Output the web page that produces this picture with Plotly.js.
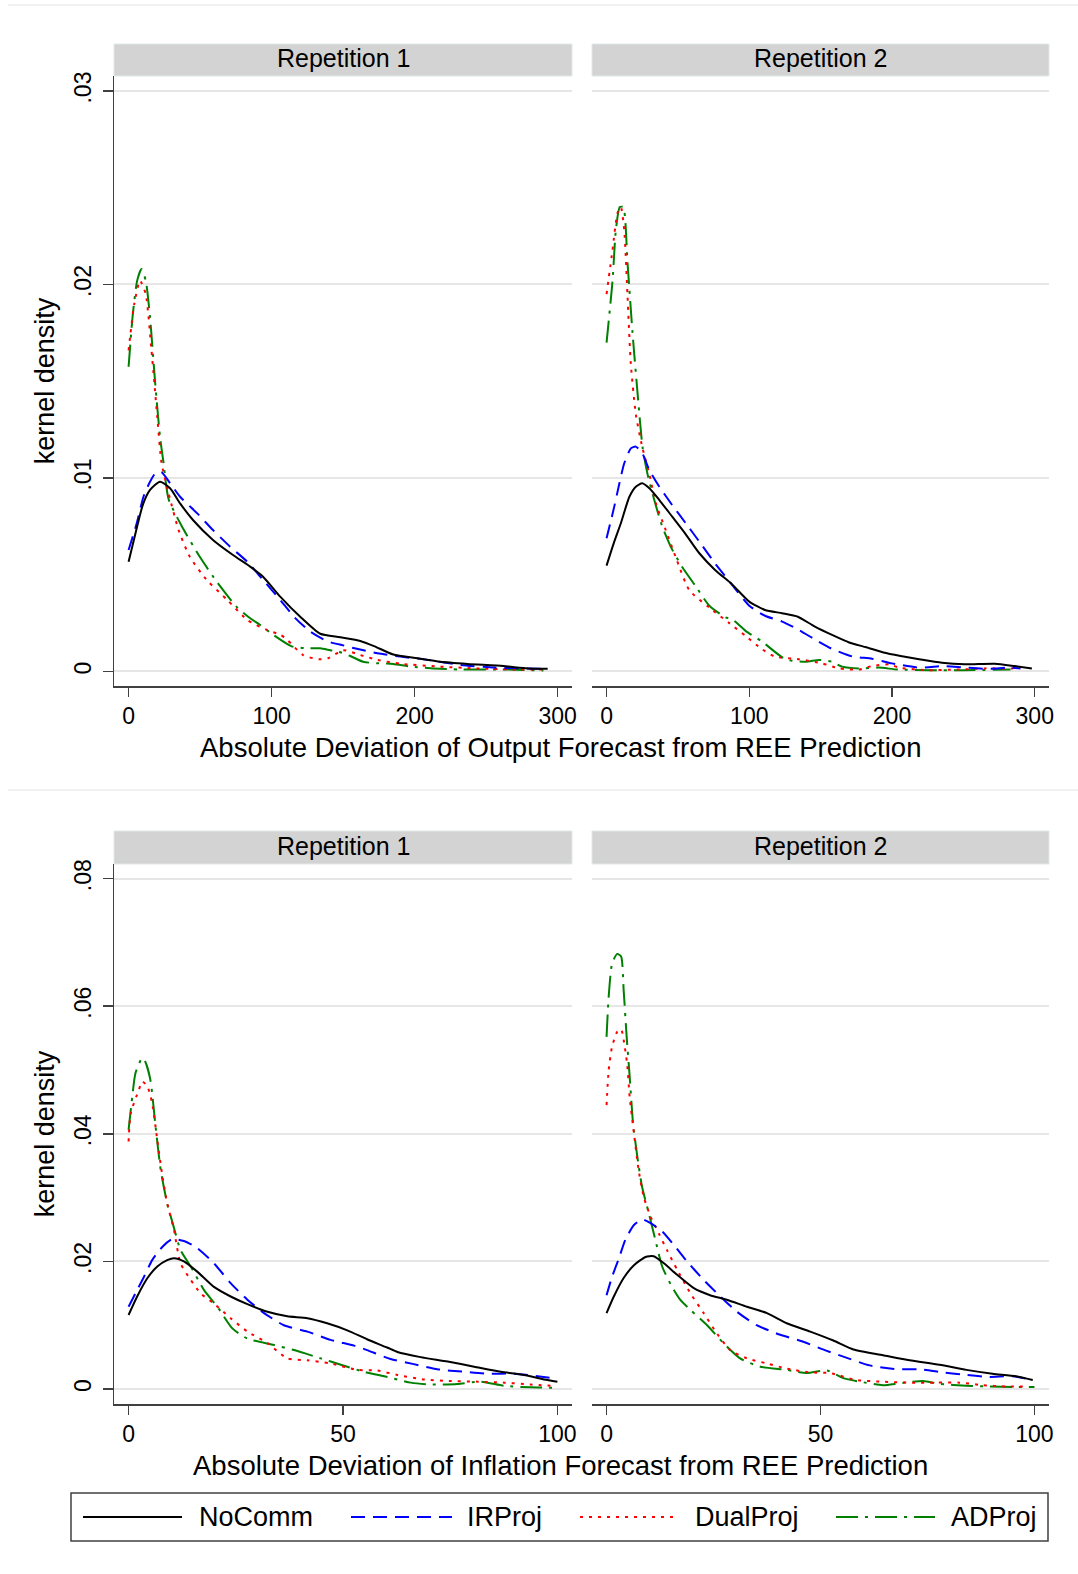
<!DOCTYPE html>
<html>
<head>
<meta charset="utf-8">
<script src="https://cdn.plot.ly/plotly-3.0.1.min.js"></script>
<style>html,body{margin:0;padding:0;background:#fff;}#chart{width:1078px;height:1574px;}</style>
</head>
<body>
<div id="chart"></div>
<script>
// ---------- DATA ----------
const seriesNames = ["NoComm", "IRProj", "DualProj", "ADProj"];
const facetLabels = ["Repetition 1", "Repetition 2"];
const outTickVals = [0, 100, 200, 300];
const infTickVals = [0, 50, 100];
const outYTickVals = [0, 0.01, 0.02, 0.03];
const outYTickText = ["0", ".01", ".02", ".03"];
const infYTickVals = [0, 0.02, 0.04, 0.06, 0.08];
const infYTickText = ["0", ".02", ".04", ".06", ".08"];

// Output forecast deviation, Repetition 1
const out1_NoComm_x = [0,5,10,15,22,29,36,45,59,73,85,94,106,120,134,148,162,172,185,202,218,237,262,279,293];
const out1_NoComm_y = [0.00567,0.0072,0.00862,0.00938,0.00981,0.00947,0.00869,0.00783,0.0068,0.00602,0.00542,0.0049,0.00387,0.00283,0.00195,0.00177,0.00158,0.0013,0.00088,0.00068,0.0005,0.00039,0.00028,0.00016,0.00014];
const out1_IRProj_x = [0,5.7,10.4,15,19,23,29,36,48,59,71,83,94,106,116,127,139,150,158,174,190,209,232,256,279,293];
const out1_IRProj_y = [0.00628,0.00766,0.00903,0.00981,0.01027,0.0103,0.00973,0.00903,0.00817,0.00731,0.00645,0.00567,0.00473,0.0037,0.0028,0.00206,0.00156,0.00135,0.0012,0.00094,0.00077,0.0006,0.00034,0.0002,0.00016,0.00014];
const out1_DualProj_x = [0,4,8,12,16,20,23,28,35,43,55,69,83,97,106,111,122,133,140,150,162,174,190,218,243,273,292];
const out1_DualProj_y = [0.0166,0.019,0.0202,0.0195,0.0166,0.0132,0.0108,0.0092,0.0073,0.0059,0.0047,0.0037,0.00266,0.00214,0.0019,0.00163,0.00085,0.00063,0.0007,0.0011,0.00085,0.0006,0.0004,0.00025,0.00016,0.0001,0.0001];
const out1_ADProj_x = [0,3,6,9,12,15,18.6,22,24.4,28,38,50,62,76,85,92,101,114,124,134,141,147,155,164,175,185,197,213,232,265,290];
const out1_ADProj_y = [0.01575,0.0185,0.0202,0.0208,0.0202,0.0183,0.0149,0.0121,0.0108,0.0089,0.0074,0.0059,0.0046,0.0033,0.00275,0.0024,0.0019,0.0013,0.0012,0.0012,0.0011,0.00102,0.0008,0.0005,0.00042,0.00039,0.00025,0.00016,0.0001,0.0001,0.00005];

// Output forecast deviation, Repetition 2
const out2_NoComm_x = [0,5,10,16,20.5,25,30,37,46,55,65,76,88,100,111,123,134,146,158,170,182,194,206,220,235,251,272,286,298];
const out2_NoComm_y = [0.00547,0.00662,0.00766,0.00903,0.00955,0.00973,0.00947,0.00886,0.008,0.00714,0.00611,0.00525,0.0045,0.00361,0.00318,0.00301,0.00283,0.00232,0.00189,0.0015,0.00125,0.00098,0.0008,0.00062,0.00045,0.00037,0.0004,0.00028,0.00016];
const out2_IRProj_x = [0,5.4,9,12.4,17,20.5,25,30,37,46,55.5,65,76,88,100,111,123,135,146,157,172,186,200,219,237,251,267,283,290];
const out2_IRProj_y = [0.00688,0.00852,0.00973,0.01076,0.01153,0.01162,0.01128,0.01041,0.00955,0.0086,0.00766,0.00671,0.00559,0.00447,0.0034,0.00288,0.00258,0.00214,0.00165,0.0012,0.00078,0.00066,0.00042,0.0002,0.00028,0.0002,0.00014,0.0002,0.00016];
const out2_DualProj_x = [0,4.2,7.7,10,12.4,14.7,17,20.5,25,30,34.5,41.5,48.5,58,72,86,98,109,118,135,151,163,177,186,198,205,224,247,265,284,290];
const out2_DualProj_y = [0.0195,0.0218,0.0237,0.024,0.0228,0.0194,0.0159,0.0133,0.0116,0.0102,0.0087,0.0073,0.0059,0.0042,0.0033,0.0025,0.0018,0.00115,0.00077,0.00063,0.00042,0.00016,0.0001,0.00028,0.00037,0.0002,0.00007,0.0001,0.00016,0.00016,0.0002];
const out2_ADProj_x = [0,4.2,6.5,9.3,11.7,14.7,18.2,21.7,25.2,28.7,33.3,39,46,53,62.5,72,83.4,88,97.4,109,125.4,139.4,149,158,165,176.7,190.7,204,227,250,283];
const out2_ADProj_y = [0.017,0.0202,0.0228,0.024,0.024,0.0211,0.0175,0.0144,0.0116,0.0102,0.0089,0.0075,0.0063,0.0054,0.0044,0.0034,0.0028,0.0027,0.0021,0.00154,0.00063,0.0005,0.0006,0.0005,0.00025,0.00016,0.0002,0.0001,0.00007,0.00007,0.0001];

// Inflation forecast deviation, Repetition 1
const inf1_NoComm_x = [0,2,4.4,6.7,9,10.6,12.9,16,19.9,23.8,27.7,32.4,37,41.7,46.3,51,55.6,60.3,62.7,68.1,74.4,80.6,86.8,92.2,96.9,100];
const inf1_NoComm_y = [0.0116,0.0145,0.0174,0.0192,0.0202,0.0205,0.02,0.0184,0.016,0.0145,0.0133,0.0121,0.0114,0.0111,0.0103,0.0092,0.0078,0.0065,0.0058,0.005,0.0043,0.0035,0.0027,0.0022,0.0015,0.00115];
const inf1_IRProj_x = [0,1.6,3.6,5.5,7.9,10.2,12.9,16,19.9,23.8,27.7,31.6,36.2,41.7,47.1,52.6,55.6,61.1,66.5,72,78.2,83.7,89.9,95.4,99.2];
const inf1_IRProj_y = [0.0129,0.015,0.0176,0.0202,0.0223,0.0235,0.0232,0.0221,0.0197,0.0166,0.014,0.0119,0.01,0.009,0.0077,0.0068,0.0061,0.0047,0.0039,0.0031,0.0027,0.0024,0.0024,0.002,0.0017];
const inf1_DualProj_x = [0,0.5,2.4,3.2,4.4,5.5,6.7,7.9,9,10.6,12.1,14.5,16.8,19.9,23.8,27.7,32.4,37,41.7,47.1,53.3,58,62.7,68.9,75.1,81.4,87.6,93.8,99.2];
const inf1_DualProj_y = [0.0388,0.0432,0.0469,0.0482,0.0474,0.0448,0.039,0.0333,0.0291,0.0249,0.0197,0.0171,0.015,0.0134,0.0111,0.009,0.0072,0.0048,0.0045,0.004,0.003,0.0029,0.0022,0.0015,0.00125,0.00115,0.001,0.0007,0.0005];
const inf1_ADProj_x = [0,0.86,1.6,3.2,3.9,5.1,6.3,7.5,9,10.2,12.1,14.5,17.6,20.7,24.2,27.7,33.9,38.6,44.8,49.5,54.9,59.6,65.8,70.5,76.7,82.1,87.6,93.8,100];
const inf1_ADProj_y = [0.0406,0.0458,0.0495,0.0519,0.0513,0.0484,0.0411,0.0343,0.0291,0.0262,0.0218,0.0192,0.0155,0.0129,0.0095,0.0079,0.0069,0.0061,0.0048,0.0038,0.0027,0.002,0.001,0.0007,0.0008,0.00115,0.0005,0.00026,0.0002];

// Inflation forecast deviation, Repetition 2
const inf2_NoComm_x = [0,1.7,4,6.4,9.1,11,13.4,16.5,20.4,24.2,28.1,32.8,37.5,42.1,47.6,53,57.7,64.6,70.8,77.8,84.1,90.2,95.7,99.6];
const inf2_NoComm_y = [0.0119,0.0145,0.0174,0.0194,0.0207,0.0208,0.0197,0.0179,0.0158,0.0147,0.014,0.0129,0.0119,0.0103,0.009,0.0076,0.0062,0.0053,0.0045,0.0038,0.003,0.0024,0.002,0.0014];
const inf2_IRProj_x = [0,1.3,2.9,4.4,6.4,8.3,10.3,13,15.7,18.8,22.7,26.6,30.5,35.1,40.6,46,51,56.5,61.5,67.7,73.2,78.6,84.1,89.5,94.9,99.6];
const inf2_IRProj_y = [0.0147,0.0176,0.0205,0.0234,0.0257,0.0266,0.026,0.0247,0.0226,0.02,0.0171,0.0145,0.0121,0.01,0.0085,0.0074,0.0061,0.0048,0.0037,0.0031,0.0031,0.0026,0.0022,0.0019,0.002,0.0014];
const inf2_DualProj_x = [0,0.5,1.3,2.5,3.4,4,4.8,5.4,6.4,7.5,8.7,10.3,12.2,14.1,16.5,19.6,22.7,25.8,28.9,32.8,37.5,42.1,47.5,52.2,58.4,64.6,70.8,77,82.5,87.9,93.3,98];
const inf2_DualProj_y = [0.0445,0.05,0.0537,0.056,0.0564,0.0547,0.051,0.0458,0.0401,0.0343,0.0301,0.027,0.0244,0.0218,0.0187,0.015,0.0119,0.0087,0.0061,0.0048,0.004,0.0032,0.0026,0.0025,0.0014,0.00115,0.001,0.001,0.001,0.0006,0.0004,0.0004];
const inf2_ADProj_x = [0,0.5,1.3,2.5,3.4,4,4.7,5.4,6.2,7.2,8.3,9.9,11.4,13,15.3,17.2,19.6,23.5,27.3,31.2,35.9,42.1,46.8,51.5,55.3,59.2,64.6,68.5,74,77.9,84.1,89.5,95,100];
const inf2_ADProj_y = [0.0552,0.0615,0.0667,0.0682,0.0678,0.0625,0.0552,0.049,0.0416,0.0364,0.0317,0.0275,0.0234,0.0192,0.016,0.014,0.0124,0.01,0.0072,0.0048,0.0035,0.003,0.0025,0.0029,0.0017,0.00115,0.0006,0.0009,0.00125,0.0008,0.0005,0.0004,0.0003,0.0003];

// ---------- STYLE ----------
const W = 1078, H = 1574;
const FONT = "Liberation Sans, Arial, sans-serif";
const styles = {
  NoComm:   {color: "#000000", dash: "solid", width: 2},
  IRProj:   {color: "#0000ff", dash: "14px,8px", width: 2},
  DualProj: {color: "#ff0000", dash: "3px,6px", width: 2},
  ADProj:   {color: "#008000", dash: "22px,7px,3px,7px", width: 2}
};
const px = v => v / W;
const py = v => 1 - v / H;

const panels = [
  {xa: "x",  ya: "y",  data: {NoComm:[out1_NoComm_x,out1_NoComm_y], IRProj:[out1_IRProj_x,out1_IRProj_y], DualProj:[out1_DualProj_x,out1_DualProj_y], ADProj:[out1_ADProj_x,out1_ADProj_y]}},
  {xa: "x2", ya: "y2", data: {NoComm:[out2_NoComm_x,out2_NoComm_y], IRProj:[out2_IRProj_x,out2_IRProj_y], DualProj:[out2_DualProj_x,out2_DualProj_y], ADProj:[out2_ADProj_x,out2_ADProj_y]}},
  {xa: "x3", ya: "y3", data: {NoComm:[inf1_NoComm_x,inf1_NoComm_y], IRProj:[inf1_IRProj_x,inf1_IRProj_y], DualProj:[inf1_DualProj_x,inf1_DualProj_y], ADProj:[inf1_ADProj_x,inf1_ADProj_y]}},
  {xa: "x4", ya: "y4", data: {NoComm:[inf2_NoComm_x,inf2_NoComm_y], IRProj:[inf2_IRProj_x,inf2_IRProj_y], DualProj:[inf2_DualProj_x,inf2_DualProj_y], ADProj:[inf2_ADProj_x,inf2_ADProj_y]}}
];

const traces = [];
panels.forEach(p => {
  ["ADProj", "DualProj", "IRProj", "NoComm"].forEach(name => {
    const s = styles[name];
    traces.push({
      type: "scatter", mode: "lines", name: name,
      x: p.data[name][0], y: p.data[name][1],
      xaxis: p.xa, yaxis: p.ya, showlegend: false, hoverinfo: "skip",
      line: {color: s.color, width: s.width, dash: s.dash, shape: "spline", smoothing: 0.6}
    });
  });
});

// Geometry (pixels)
const L1 = [114, 572], L2 = [592, 1049];
const TOP = [76, 686], BOT = [864, 1404];

const axisLine = "#404040";
const grid = "#e6e6e6";
function xAxis(dom, anchor, range, vals) {
  return {domain: dom, anchor: anchor, range: range, tickvals: vals, ticktext: vals.map(String),
    showline: true, linecolor: axisLine, linewidth: 1.5, ticks: "outside", ticklen: 9, tickwidth: 1.5,
    tickcolor: axisLine, showgrid: false, zeroline: false, tickfont: {size: 23, family: FONT, color: "#000"},
    ticklabelstandoff: 0, fixedrange: true};
}
function yAxisLeft(dom, anchor, range, vals, text, title) {
  return {domain: dom, anchor: anchor, range: range, tickvals: vals, ticktext: text, tickangle: -90,
    showline: true, linecolor: axisLine, linewidth: 1.5, ticks: "outside", ticklen: 10, tickwidth: 1.5,
    tickcolor: axisLine, showgrid: true, gridcolor: grid, gridwidth: 2, zeroline: false,
    tickfont: {size: 23, family: FONT, color: "#000"}, ticklabelstandoff: 2,
    title: {text: title, font: {size: 27, family: FONT, color: "#000"}, standoff: 8}, fixedrange: true};
}
function yAxisRight(dom, anchor, range, vals) {
  return {domain: dom, anchor: anchor, range: range, tickvals: vals, showticklabels: false,
    showline: false, ticks: "", showgrid: true, gridcolor: grid, gridwidth: 2, zeroline: false, fixedrange: true};
}

const outYRange = [-0.00075, 0.030775];
const infYRange = [-0.00235, 0.08229];
const outXRange = [-10.2, 310];
const infXRange = [-3.4, 103.4];

const layout = {
  width: W, height: H, margin: {l: 0, r: 0, t: 0, b: 0},
  paper_bgcolor: "#ffffff", plot_bgcolor: "#ffffff",
  font: {family: FONT, color: "#000"},
  showlegend: false,
  xaxis:  xAxis([px(L1[0]), px(L1[1])], "y",  outXRange, outTickVals),
  xaxis2: xAxis([px(L2[0]), px(L2[1])], "y2", outXRange, outTickVals),
  xaxis3: xAxis([px(L1[0]), px(L1[1])], "y3", infXRange, infTickVals),
  xaxis4: xAxis([px(L2[0]), px(L2[1])], "y4", infXRange, infTickVals),
  yaxis:  yAxisLeft([py(TOP[1]), py(TOP[0])], "x", outYRange, outYTickVals, outYTickText, "kernel density"),
  yaxis2: yAxisRight([py(TOP[1]), py(TOP[0])], "x2", outYRange, outYTickVals),
  yaxis3: yAxisLeft([py(BOT[1]), py(BOT[0])], "x3", infYRange, infYTickVals, infYTickText, "kernel density"),
  yaxis4: yAxisRight([py(BOT[1]), py(BOT[0])], "x4", infYRange, infYTickVals),
  shapes: [], annotations: []
};

// separators of the combined graph regions
[5, 790].forEach(yy => layout.shapes.push({type: "line", xref: "paper", yref: "paper",
  x0: px(8), x1: 1, y0: py(yy), y1: py(yy), line: {color: "#ececec", width: 1.5}}));

// facet strips
const strips = [[L1, 44, TOP[0], facetLabels[0]], [L2, 44, TOP[0], facetLabels[1]],
                [L1, 831, BOT[0], facetLabels[0]], [L2, 831, BOT[0], facetLabels[1]]];
strips.forEach(s => {
  layout.shapes.push({type: "rect", xref: "paper", yref: "paper", layer: "below",
    x0: px(s[0][0]), x1: px(s[0][1]), y0: py(s[2]), y1: py(s[1]),
    fillcolor: "#d3d3d3", line: {color: "#e2e8ea", width: 1}});
  layout.annotations.push({xref: "paper", yref: "paper", x: px((s[0][0] + s[0][1]) / 2), y: py((s[1] + s[2]) / 2 - 2),
    text: s[3], showarrow: false, xanchor: "center", yanchor: "middle", font: {size: 25, family: FONT, color: "#000"}});
});

// shared x-axis titles
layout.annotations.push({xref: "paper", yref: "paper", x: px(560), y: py(747), showarrow: false,
  xanchor: "center", yanchor: "middle", text: "Absolute Deviation of Output Forecast from REE Prediction",
  font: {size: 27.5, family: FONT, color: "#000"}});
layout.annotations.push({xref: "paper", yref: "paper", x: px(560), y: py(1465), showarrow: false,
  xanchor: "center", yanchor: "middle", text: "Absolute Deviation of Inflation Forecast from REE Prediction",
  font: {size: 27.5, family: FONT, color: "#000"}});

// legend (framed key with long line samples, like the reference)
layout.shapes.push({type: "rect", xref: "paper", yref: "paper", x0: px(71), x1: px(1048), y0: py(1541), y1: py(1493),
  line: {color: axisLine, width: 1.5}, fillcolor: "rgba(0,0,0,0)"});
const legendLineX = [[83, 182], [351, 452], [580, 679], [836, 935]];
const legendTextX = [197, 465, 693, 949];
seriesNames.forEach((name, i) => {
  const s = styles[name];
  layout.shapes.push({type: "line", xref: "paper", yref: "paper", x0: px(legendLineX[i][0]), x1: px(legendLineX[i][1]),
    y0: py(1517), y1: py(1517), line: {color: s.color, width: 2, dash: s.dash}});
  layout.annotations.push({xref: "paper", yref: "paper", x: px(legendTextX[i]), y: py(1517), showarrow: false,
    xanchor: "left", yanchor: "middle", text: name, font: {size: 27, family: FONT, color: "#000"}});
});

Plotly.newPlot("chart", traces, layout, {staticPlot: true, displayModeBar: false});
</script>
</body>
</html>
